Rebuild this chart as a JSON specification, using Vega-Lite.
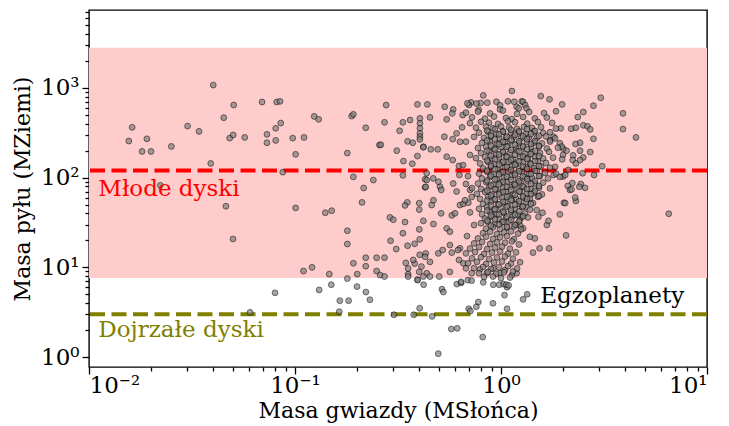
{
"$schema":"https://vega.github.io/schema/vega-lite/v6.json",
"width":618,"height":357,
"autosize":{"type":"none"},
"padding":{"left":89,"top":10,"right":22,"bottom":59},
"config":{"view":{"stroke":"black","strokeWidth":1.4},"font":"DejaVu Serif"},
"datasets":{"pts":[
{"m":0.0156,"d":256},{"m":0.0162,"d":364},{"m":0.0181,"d":196},{"m":0.0191,"d":271},{"m":0.02,"d":196},{"m":0.0222,"d":82},{"m":0.0251,"d":223},{"m":0.0301,"d":376},{"m":0.0342,"d":328},{"m":0.039,"d":144},{"m":0.0401,"d":1077},{"m":0.0451,"d":466},{"m":0.0462,"d":48},{"m":0.0482,"d":276},{"m":0.0501,"d":299},{"m":0.0504,"d":645},{"m":0.05,"d":20.7},{"m":0.057,"d":281},{"m":0.0692,"d":697},{"m":0.0731,"d":304},{"m":0.0731,"d":245},{"m":0.0806,"d":260},{"m":0.0806,"d":355},{"m":0.0815,"d":697},{"m":0.0846,"d":709},{"m":0.0853,"d":406},{"m":0.0872,"d":115},{"m":0.0975,"d":276},{"m":0.1007,"d":182},{"m":0.1007,"d":46},{"m":0.1106,"d":281},{"m":0.124,"d":482},{"m":0.1303,"d":447},{"m":0.1403,"d":40.6},{"m":0.1507,"d":42.8},{"m":0.11,"d":9.1},{"m":0.121,"d":10},{"m":0.1467,"d":8.4},{"m":0.1795,"d":188},{"m":0.1795,"d":25.6},{"m":0.1795,"d":18.2},{"m":0.1795,"d":7.5},{"m":0.1884,"d":486},{"m":0.192,"d":508},{"m":0.192,"d":102},{"m":0.192,"d":11.1},{"m":0.2006,"d":8.4},{"m":0.2155,"d":76.6},{"m":0.2115,"d":53},{"m":0.2205,"d":360},{"m":0.2205,"d":12.8},{"m":0.2205,"d":10.3},{"m":0.24,"d":94},{"m":0.249,"d":12.8},{"m":0.249,"d":9.1},{"m":0.257,"d":231},{"m":0.08,"d":5.2},{"m":0.0605,"d":3.15},
{"m":0.277,"d":645},{"m":0.393,"d":656},{"m":0.439,"d":656},{"m":0.272,"d":414},{"m":0.334,"d":414},{"m":0.362,"d":439},{"m":0.404,"d":458},{"m":0.404,"d":403},{"m":0.404,"d":355},{"m":0.404,"d":312},{"m":0.404,"d":286},{"m":0.404,"d":267},{"m":0.322,"d":333},{"m":0.352,"d":254},{"m":0.373,"d":245},{"m":0.261,"d":233},{"m":0.312,"d":200},{"m":0.393,"d":174},{"m":0.42,"d":221},{"m":0.336,"d":153},{"m":0.371,"d":143},{"m":0.334,"d":106},{"m":0.428,"d":96},{"m":0.428,"d":78},{"m":0.351,"d":53},{"m":0.342,"d":49},{"m":0.401,"d":52},{"m":0.401,"d":44},{"m":0.289,"d":36},{"m":0.3,"d":34},{"m":0.42,"d":33},{"m":0.342,"d":32},{"m":0.334,"d":24},{"m":0.401,"d":26.5},{"m":0.291,"d":19.8},{"m":0.31,"d":16},{"m":0.352,"d":17.4},{"m":0.381,"d":18.3},{"m":0.403,"d":20.5},{"m":0.403,"d":13.8},{"m":0.431,"d":14.3},{"m":0.272,"d":12.8},{"m":0.345,"d":11.2},{"m":0.381,"d":11},{"m":0.354,"d":9.7},{"m":0.259,"d":8.2},{"m":0.272,"d":7.9},{"m":0.411,"d":10.2},{"m":0.436,"d":8.6},{"m":0.42,"d":7.9},{"m":0.354,"d":8.4},{"m":0.354,"d":7.9},{"m":0.393,"d":7.3},
{"m":0.131,"d":5.6},{"m":0.15,"d":6.4},{"m":0.165,"d":4.25},{"m":0.182,"d":4.25},{"m":0.164,"d":3.2},{"m":0.2,"d":6.1},{"m":0.221,"d":5.3},{"m":0.231,"d":4.35},{"m":0.302,"d":2.96},{"m":0.377,"d":2.96},{"m":0.403,"d":3.5},{"m":0.463,"d":2.84},{"m":0.394,"d":7.2},{"m":0.421,"d":6.4},{"m":0.517,"d":5.7},{"m":0.525,"d":5.3},{"m":0.574,"d":2.05},{"m":0.613,"d":2.09},{"m":0.496,"d":1.09},{"m":0.815,"d":1.67},{"m":0.697,"d":3.45},{"m":0.71,"d":3.26},{"m":0.759,"d":3.64},{"m":0.776,"d":4.1},{"m":0.914,"d":3.97},{"m":1.04,"d":4.9},{"m":1.07,"d":3.45},{"m":0.61,"d":6.5},{"m":0.641,"d":6.7},{"m":0.917,"d":6.4},{"m":1.026,"d":6.5},{"m":1.07,"d":6.0},{"m":1.34,"d":5.0},{"m":1.28,"d":4.4},{"m":0.98,"d":6.4},{"m":1.06,"d":6.4},{"m":1.09,"d":6.3},{"m":0.82,"d":6.8},{"m":0.64,"d":6.9},{"m":0.69,"d":7.2},{"m":0.72,"d":7.1},
{"m":3.05,"d":778},{"m":2.81,"d":634},{"m":3.91,"d":521},{"m":3.91,"d":348},{"m":4.52,"d":281},{"m":6.52,"d":39.6},{"m":2.51,"d":539},{"m":2.36,"d":474},{"m":1.98,"d":656},{"m":2.51,"d":383},{"m":2.63,"d":373},{"m":2.71,"d":345},{"m":2.19,"d":351},{"m":2.31,"d":360},{"m":2.81,"d":271},{"m":2.42,"d":245},{"m":2.3,"d":237},{"m":2.71,"d":193},{"m":2.42,"d":200},{"m":2.24,"d":177},{"m":2.51,"d":168},{"m":2.08,"d":200},{"m":2.0,"d":211},{"m":2.23,"d":157},{"m":2.31,"d":144},{"m":2.42,"d":157},{"m":3.1,"d":134},{"m":2.83,"d":107},{"m":2.49,"d":112},{"m":2.0,"d":103},{"m":2.22,"d":87},{"m":2.44,"d":85},{"m":2.56,"d":77},{"m":2.11,"d":81},{"m":2.16,"d":73},{"m":2.2,"d":74},{"m":2.4,"d":79},{"m":2.31,"d":55},{"m":2.02,"d":52.5},{"m":1.93,"d":39},{"m":2.07,"d":22.7},{"m":1.93,"d":242},{"m":1.97,"d":222},{"m":2.0,"d":179},{"m":1.98,"d":160},
{"m":1.13,"d":924},{"m":0.82,"d":826},{"m":1.56,"d":812},{"m":1.72,"d":746},{"m":0.715,"d":690},{"m":0.797,"d":680},{"m":0.858,"d":685},{"m":0.95,"d":702},{"m":1.08,"d":709},{"m":1.16,"d":702},{"m":1.26,"d":709},{"m":1.28,"d":702},{"m":0.99,"d":640},{"m":0.99,"d":577},{"m":0.7,"d":645},{"m":0.76,"d":670},{"m":0.78,"d":570},{"m":1.19,"d":617},{"m":1.22,"d":592},{"m":1.31,"d":645},{"m":1.33,"d":592},{"m":0.452,"d":470},{"m":0.533,"d":617},{"m":0.586,"d":577},{"m":0.58,"d":521},{"m":0.545,"d":447},{"m":0.652,"d":499},{"m":0.687,"d":673},{"m":1.95,"d":355},{"m":1.8,"d":286},{"m":1.73,"d":262},{"m":0.42,"d":218},{"m":0.456,"d":207},{"m":0.493,"d":207},{"m":0.531,"d":286},{"m":0.583,"d":269},{"m":0.609,"d":312},{"m":0.632,"d":251},{"m":0.545,"d":171},{"m":0.583,"d":157},{"m":0.625,"d":135},{"m":0.628,"d":107},{"m":0.436,"d":112},{"m":0.436,"d":94},{"m":0.469,"d":98},{"m":0.497,"d":90},{"m":0.506,"d":79},{"m":0.431,"d":79},{"m":0.586,"d":86},{"m":0.609,"d":70},{"m":0.676,"d":85},{"m":0.708,"d":73},{"m":0.721,"d":61},{"m":0.513,"d":73},{"m":0.461,"d":49.5},{"m":0.47,"d":56},{"m":0.512,"d":40},{"m":0.577,"d":38},{"m":0.598,"d":40},{"m":0.632,"d":49.5},{"m":0.656,"d":51},{"m":0.694,"d":52.5},{"m":0.47,"d":30.4},{"m":0.545,"d":27.2},{"m":0.565,"d":25},{"m":0.375,"d":12.1},{"m":0.428,"d":13.1},{"m":0.452,"d":11.5},{"m":0.496,"d":14.3},{"m":0.521,"d":15.6},{"m":0.565,"d":17.7},{"m":0.577,"d":14.6},{"m":0.632,"d":16.3},{"m":0.625,"d":12.1},{"m":0.656,"d":11.1},{"m":0.401,"d":8.9},{"m":0.452,"d":7.9},{"m":0.501,"d":7.9},{"m":0.565,"d":8.9},{"m":0.676,"d":9.75},{"m":0.721,"d":8.6},{"m":0.791,"d":9.5},{"m":0.853,"d":8.6},{"m":0.918,"d":9.75},{"m":0.989,"d":8.6},{"m":1.045,"d":9.3},{"m":1.13,"d":8.2},{"m":1.19,"d":8.6},{"m":1.43,"d":14.6},{"m":1.54,"d":16.3},{"m":1.71,"d":16.3},{"m":1.38,"d":21.9},{"m":1.46,"d":21},{"m":1.67,"d":29.6},{"m":1.7,"d":33},{"m":2.29,"d":60},{"m":1.28,"d":27.2},{"m":1.24,"d":29.1},{"m":1.33,"d":47.4},{"m":1.26,"d":36.6},{"m":1.49,"d":43.5},{"m":1.59,"d":40.6},{"m":1.52,"d":36.6},{"m":1.93,"d":102},{"m":2.05,"d":107},{"m":2.12,"d":122},{"m":1.8,"d":107},{"m":1.83,"d":132},{"m":2.05,"d":52},
{"m":0.676,"d":530},{"m":0.773,"d":545},{"m":0.885,"d":520},{"m":1.022,"d":560},{"m":1.196,"d":515},{"m":1.37,"d":540},{"m":1.617,"d":525},{"m":1.85,"d":550},
{"m":0.723,"d":470},{"m":0.836,"d":455},{"m":0.925,"d":480},{"m":1.057,"d":462},{"m":1.13,"d":450},{"m":1.28,"d":475},{"m":1.46,"d":458},{"m":1.67,"d":468},
{"m":0.707,"d":405},{"m":0.8,"d":420},{"m":0.875,"d":410},{"m":0.967,"d":398},{"m":1.081,"d":425},{"m":1.17,"d":415},{"m":1.34,"d":400},{"m":1.51,"d":418},{"m":1.77,"d":408},
{"m":0.756,"d":360},{"m":0.846,"d":370},{"m":0.915,"d":355},{"m":1.0,"d":372},{"m":1.094,"d":362},{"m":1.196,"d":350},{"m":1.293,"d":368},{"m":1.414,"d":358},{"m":1.564,"d":366},{"m":1.85,"d":352},
{"m":0.782,"d":318},{"m":0.865,"d":325},{"m":0.946,"d":312},{"m":1.022,"d":328},{"m":1.118,"d":315},{"m":1.223,"d":322},{"m":1.322,"d":310},{"m":1.446,"d":326},{"m":1.6,"d":316},{"m":1.729,"d":321},
{"m":0.74,"d":285},{"m":0.827,"d":278},{"m":0.894,"d":290},{"m":0.978,"d":275},{"m":1.057,"d":283},{"m":1.156,"d":287},{"m":1.251,"d":276},{"m":1.368,"d":282},{"m":1.495,"d":279},{"m":1.653,"d":288},{"m":1.83,"d":274},
{"m":0.809,"d":244},{"m":0.885,"d":252},{"m":0.956,"d":240},{"m":1.046,"d":249},{"m":1.13,"d":255},{"m":1.223,"d":243},{"m":1.337,"d":250},{"m":1.446,"d":246},{"m":1.581,"d":241},{"m":1.729,"d":253},
{"m":0.773,"d":214},{"m":0.846,"d":221},{"m":0.925,"d":210},{"m":1.0,"d":219},{"m":1.081,"d":224},{"m":1.183,"d":212},{"m":1.279,"d":218},{"m":1.398,"d":215},{"m":1.529,"d":222},{"m":1.67,"d":211},{"m":1.89,"d":216},
{"m":0.8,"d":188},{"m":0.875,"d":195},{"m":0.946,"d":186},{"m":1.022,"d":193},{"m":1.106,"d":190},{"m":1.196,"d":197},{"m":1.307,"d":185},{"m":1.414,"d":192},{"m":1.546,"d":189},{"m":1.71,"d":194},
{"m":0.756,"d":165},{"m":0.836,"d":170},{"m":0.904,"d":163},{"m":0.978,"d":168},{"m":1.057,"d":172},{"m":1.143,"d":162},{"m":1.237,"d":169},{"m":1.352,"d":166},{"m":1.462,"d":171},{"m":1.6,"d":164},{"m":1.79,"d":167},
{"m":0.791,"d":144},{"m":0.865,"d":149},{"m":0.935,"d":142},{"m":1.011,"d":147},{"m":1.094,"d":150},{"m":1.183,"d":143},{"m":1.279,"d":148},{"m":1.383,"d":145},{"m":1.512,"d":151},{"m":1.653,"d":146},
{"m":0.818,"d":127},{"m":0.894,"d":132},{"m":0.967,"d":125},{"m":1.046,"d":130},{"m":1.13,"d":134},{"m":1.223,"d":126},{"m":1.322,"d":131},{"m":1.446,"d":128},{"m":1.564,"d":133},{"m":1.729,"d":129},
{"m":0.782,"d":111},{"m":0.856,"d":116},{"m":0.925,"d":110},{"m":1.0,"d":114},{"m":1.081,"d":117},{"m":1.17,"d":112},{"m":1.265,"d":115},{"m":1.368,"d":109},{"m":1.495,"d":118},{"m":1.635,"d":113},{"m":1.85,"d":111},
{"m":0.809,"d":98},{"m":0.885,"d":102},{"m":0.956,"d":96},{"m":1.034,"d":100},{"m":1.118,"d":103},{"m":1.209,"d":97},{"m":1.307,"d":101},{"m":1.414,"d":99},{"m":1.546,"d":104},{"m":1.69,"d":98},
{"m":0.773,"d":86},{"m":0.846,"d":89},{"m":0.915,"d":84},{"m":0.989,"d":88},{"m":1.069,"d":90},{"m":1.156,"d":85},{"m":1.251,"d":87},{"m":1.352,"d":91},{"m":1.462,"d":86},{"m":1.6,"d":88},
{"m":0.8,"d":75},{"m":0.875,"d":78},{"m":0.946,"d":74},{"m":1.022,"d":77},{"m":1.106,"d":79},{"m":1.196,"d":76},{"m":1.293,"d":78},{"m":1.398,"d":75},{"m":1.529,"d":77},{"m":1.729,"d":76},
{"m":0.764,"d":66},{"m":0.836,"d":69},{"m":0.904,"d":65},{"m":0.978,"d":68},{"m":1.057,"d":70},{"m":1.143,"d":66},{"m":1.237,"d":69},{"m":1.337,"d":67},{"m":1.446,"d":68},{"m":1.581,"d":65},
{"m":0.791,"d":58},{"m":0.865,"d":61},{"m":0.935,"d":57},{"m":1.011,"d":60},{"m":1.094,"d":62},{"m":1.183,"d":58},{"m":1.279,"d":60},{"m":1.383,"d":59},{"m":1.512,"d":61},
{"m":0.818,"d":51},{"m":0.894,"d":54},{"m":0.967,"d":50},{"m":1.046,"d":53},{"m":1.13,"d":55},{"m":1.223,"d":51},{"m":1.322,"d":53},{"m":1.43,"d":52},
{"m":0.782,"d":45},{"m":0.856,"d":47},{"m":0.925,"d":44},{"m":1.0,"d":46},{"m":1.081,"d":48},{"m":1.17,"d":45},{"m":1.265,"d":47},{"m":1.383,"d":44},
{"m":0.809,"d":39},{"m":0.885,"d":41},{"m":0.956,"d":39.5},{"m":1.034,"d":40.5},{"m":1.118,"d":42},{"m":1.209,"d":38.5},{"m":1.307,"d":40},
{"m":0.836,"d":35},{"m":0.904,"d":36.5},{"m":0.978,"d":34.5},{"m":1.057,"d":35.5},{"m":1.143,"d":37},{"m":1.237,"d":34},{"m":1.352,"d":36},
{"m":0.8,"d":31},{"m":0.865,"d":32},{"m":0.935,"d":30.5},{"m":1.011,"d":31.5},{"m":1.094,"d":32.5},{"m":1.183,"d":30},
{"m":0.846,"d":27},{"m":0.915,"d":28},{"m":0.989,"d":26.8},{"m":1.069,"d":27.8},{"m":1.156,"d":28.5},{"m":1.251,"d":26.5},
{"m":0.818,"d":24},{"m":0.885,"d":25},{"m":0.956,"d":23.5},{"m":1.034,"d":24.5},{"m":1.118,"d":25.2},{"m":1.209,"d":23.8},
{"m":0.773,"d":21},{"m":0.846,"d":22},{"m":0.915,"d":20.8},{"m":0.989,"d":21.6},{"m":1.069,"d":22.3},{"m":1.156,"d":20.6},
{"m":0.74,"d":18.5},{"m":0.809,"d":19.2},{"m":0.885,"d":18.2},{"m":0.956,"d":19},{"m":1.046,"d":18.8},{"m":1.13,"d":19.5},{"m":1.223,"d":18},
{"m":0.707,"d":16.2},{"m":0.782,"d":16.8},{"m":0.856,"d":16},{"m":0.935,"d":16.6},{"m":1.011,"d":17},{"m":1.106,"d":16.1},
{"m":0.676,"d":14.3},{"m":0.748,"d":14.8},{"m":0.827,"d":14.1},{"m":0.904,"d":14.6},{"m":0.989,"d":15},{"m":1.081,"d":14.2},{"m":1.183,"d":14.7},
{"m":0.723,"d":12.6},{"m":0.8,"d":13},{"m":0.875,"d":12.4},{"m":0.956,"d":12.9},{"m":1.046,"d":13.2},{"m":1.143,"d":12.5},
{"m":0.692,"d":11.1},{"m":0.764,"d":11.5},{"m":0.846,"d":10.9},{"m":0.925,"d":11.3},{"m":1.011,"d":11.6},{"m":1.118,"d":11},{"m":1.237,"d":11.4},
{"m":0.74,"d":9.8},{"m":0.818,"d":10.1},{"m":0.894,"d":9.6},{"m":0.978,"d":10},{"m":1.081,"d":10.3},{"m":1.196,"d":9.7},
{"m":0.782,"d":8.6},{"m":0.865,"d":8.9},{"m":0.946,"d":8.5},{"m":1.034,"d":8.8},{"m":1.143,"d":9},
{"m":0.827,"d":7.8},{"m":0.915,"d":7.9},{"m":1.0,"d":7.6},{"m":1.106,"d":7.7},
{"m":0.647,"d":364},{"m":0.676,"d":252},{"m":0.707,"d":179},{"m":0.654,"d":138},{"m":0.692,"d":104},{"m":0.723,"d":76.5},{"m":0.669,"d":56},{"m":0.707,"d":41},{"m":0.74,"d":29.6},{"m":0.684,"d":22.3},{"m":0.618,"d":15.6},
{"m":0.856,"d":335},{"m":0.935,"d":345},{"m":1.022,"d":325},{"m":1.118,"d":342},{"m":1.223,"d":328},{"m":1.337,"d":348},{"m":1.462,"d":332},
{"m":0.894,"d":295},{"m":0.978,"d":304},{"m":1.069,"d":286},{"m":1.17,"d":301},{"m":1.279,"d":289},{"m":1.398,"d":307},{"m":1.529,"d":292},
{"m":0.856,"d":259},{"m":0.935,"d":267},{"m":1.022,"d":251},{"m":1.118,"d":264},{"m":1.223,"d":254},{"m":1.337,"d":269},{"m":1.462,"d":256},
{"m":0.894,"d":228},{"m":0.978,"d":235},{"m":1.069,"d":221},{"m":1.17,"d":233},{"m":1.279,"d":223},{"m":1.398,"d":237},{"m":1.529,"d":226},
{"m":0.856,"d":200},{"m":0.935,"d":206},{"m":1.022,"d":194},{"m":1.118,"d":204},{"m":1.223,"d":196},{"m":1.337,"d":208},{"m":1.462,"d":198},
{"m":0.894,"d":176},{"m":0.978,"d":181},{"m":1.069,"d":171},{"m":1.17,"d":180},{"m":1.279,"d":172},{"m":1.398,"d":183},{"m":1.529,"d":174},
{"m":0.856,"d":155},{"m":0.935,"d":160},{"m":1.022,"d":150},{"m":1.118,"d":158},{"m":1.223,"d":152},{"m":1.337,"d":161},{"m":1.462,"d":153},
{"m":0.894,"d":136},{"m":0.978,"d":140},{"m":1.069,"d":132},{"m":1.17,"d":139},{"m":1.279,"d":133},{"m":1.398,"d":141},{"m":1.529,"d":135},
{"m":0.856,"d":120},{"m":0.935,"d":124},{"m":1.022,"d":116},{"m":1.118,"d":122},{"m":1.223,"d":118},{"m":1.337,"d":125},{"m":1.462,"d":119},
{"m":0.894,"d":105.5},{"m":0.978,"d":108.7},{"m":1.069,"d":102.3},{"m":1.17,"d":107.6},{"m":1.279,"d":103.4},{"m":1.398,"d":109.7},{"m":1.529,"d":104.4},
{"m":0.856,"d":92.8},{"m":0.935,"d":95.6},{"m":1.022,"d":90},{"m":1.118,"d":94.7},{"m":1.223,"d":90.9},{"m":1.337,"d":96.5},{"m":1.462,"d":91.9},
{"m":0.894,"d":81.6},{"m":0.978,"d":84},{"m":1.069,"d":79.2},{"m":1.17,"d":83.2},{"m":1.279,"d":80},{"m":1.398,"d":84.9},{"m":1.529,"d":80.8},
{"m":0.856,"d":71.8},{"m":0.935,"d":74},{"m":1.022,"d":69.6},{"m":1.118,"d":73.2},{"m":1.223,"d":70.4},{"m":1.337,"d":74.7},{"m":1.462,"d":71.1},
{"m":0.894,"d":63.1},{"m":0.978,"d":65},{"m":1.069,"d":61.2},{"m":1.17,"d":64.4},{"m":1.279,"d":61.8},{"m":1.398,"d":65.6},{"m":1.529,"d":62.5},
{"m":0.856,"d":55.6},{"m":0.935,"d":57.3},{"m":1.022,"d":53.9},{"m":1.118,"d":56.7},{"m":1.223,"d":54.5},{"m":1.337,"d":57.8},
{"m":0.894,"d":48.9},{"m":0.978,"d":50.4},{"m":1.069,"d":47.4},{"m":1.17,"d":49.9},{"m":1.279,"d":47.9},{"m":1.398,"d":50.9},
{"m":0.856,"d":43},{"m":0.935,"d":44.3},{"m":1.022,"d":41.7},{"m":1.118,"d":43.9},{"m":1.223,"d":42.1},
{"m":0.894,"d":37.8},{"m":0.978,"d":38.9},{"m":1.069,"d":36.7},{"m":1.17,"d":38.6},{"m":1.279,"d":37},
{"m":0.856,"d":33.2},{"m":0.935,"d":34.2},{"m":1.022,"d":32.2},{"m":1.118,"d":33.9},{"m":1.223,"d":32.5},
{"m":0.894,"d":29.2},{"m":0.978,"d":30.1},{"m":1.069,"d":28.3},{"m":1.17,"d":29.8}
]},
"layer":[
{"data":{"values":[{"lo":7.6,"hi":2800}]},
 "mark":{"type":"rect","color":"#ffcccc"},
 "encoding":{"y":{"field":"lo","type":"quantitative","scale":{"type":"log","domain":[0.774,7400]}},"y2":{"field":"hi"}}},
{"data":{"values":[{"v":120}]},
 "mark":{"type":"rule","color":"#ff0000","strokeWidth":4,"strokeDash":[15,6.5]},
 "encoding":{"y":{"field":"v","type":"quantitative","scale":{"type":"log","domain":[0.774,7400]}}}},
{"data":{"values":[{"v":3}]},
 "mark":{"type":"rule","color":"#808000","strokeWidth":4,"strokeDash":[15,6.5]},
 "encoding":{"y":{"field":"v","type":"quantitative","scale":{"type":"log","domain":[0.774,7400]}}}},
{"data":{"name":"pts"},
 "mark":{"type":"point","filled":true,"shape":"circle","size":34,"fill":"#808080","stroke":"#000000","strokeWidth":0.8,"opacity":0.7},
 "encoding":{
  "x":{"field":"m","type":"quantitative","scale":{"type":"log","domain":[0.01,10],"nice":false},
   "axis":{"values":[0.01,0.02,0.03,0.04,0.05,0.06,0.07,0.08,0.09,0.1,0.2,0.3,0.4,0.5,0.6,0.7,0.8,0.9,1,2,3,4,5,6,7,8,9,10],
    "labelExpr":"datum.value == 0.01 ? '10⁻²' : datum.value == 0.1 ? '10⁻¹' : datum.value == 1 ? '10⁰' : datum.value == 10 ? '10¹' : ''",
    "labelOverlap":false,"labelFont":"DejaVu Serif","labelFontSize":23,"labelColor":"black","labelPadding":0,
    "tickColor":"black","tickWidth":1.3,"tickSize":{"condition":{"test":"indexof([0.01,0.1,1,10], datum.value) >= 0","value":7},"value":4},
    "domain":false,"grid":false,
    "title":"Masa gwiazdy (MSłońca)","titleFont":"DejaVu Serif","titleFontSize":22,"titleFontWeight":"normal","titleColor":"black","titlePadding":3}},
  "y":{"field":"d","type":"quantitative","scale":{"type":"log","domain":[0.774,7400],"nice":false},
   "axis":{"values":[1,2,3,4,5,6,7,8,9,10,20,30,40,50,60,70,80,90,100,200,300,400,500,600,700,800,900,1000,2000,3000,4000,5000,6000,7000],
    "labelExpr":"datum.value == 1 ? '10⁰' : datum.value == 10 ? '10¹' : datum.value == 100 ? '10²' : datum.value == 1000 ? '10³' : ''",
    "labelOverlap":false,"labelFont":"DejaVu Serif","labelFontSize":23,"labelColor":"black","labelPadding":3,
    "tickColor":"black","tickWidth":1.3,"tickSize":{"condition":{"test":"indexof([1,10,100,1000], datum.value) >= 0","value":7},"value":4},
    "domain":false,"grid":false,
    "title":"Masa pyłu (MZiemi)","titleFont":"DejaVu Serif","titleFontSize":22,"titleFontWeight":"normal","titleColor":"black","titlePadding":6}}
 }},
{"data":{"values":[{"m":0.0111,"d":75,"t":"Młode dyski"}]},
 "mark":{"type":"text","align":"left","baseline":"middle","color":"#ff0000","font":"DejaVu Serif","fontSize":23},
 "encoding":{"x":{"field":"m","type":"quantitative"},"y":{"field":"d","type":"quantitative"},"text":{"field":"t"}}},
{"data":{"values":[{"m":0.0111,"d":2.0,"t":"Dojrzałe dyski"}]},
 "mark":{"type":"text","align":"left","baseline":"middle","color":"#808000","font":"DejaVu Serif","fontSize":23},
 "encoding":{"x":{"field":"m","type":"quantitative"},"y":{"field":"d","type":"quantitative"},"text":{"field":"t"}}},
{"data":{"values":[{"m":1.55,"d":4.8,"t":"Egzoplanety"}]},
 "mark":{"type":"text","align":"left","baseline":"middle","color":"black","font":"DejaVu Serif","fontSize":23},
 "encoding":{"x":{"field":"m","type":"quantitative"},"y":{"field":"d","type":"quantitative"},"text":{"field":"t"}}}
]
}
